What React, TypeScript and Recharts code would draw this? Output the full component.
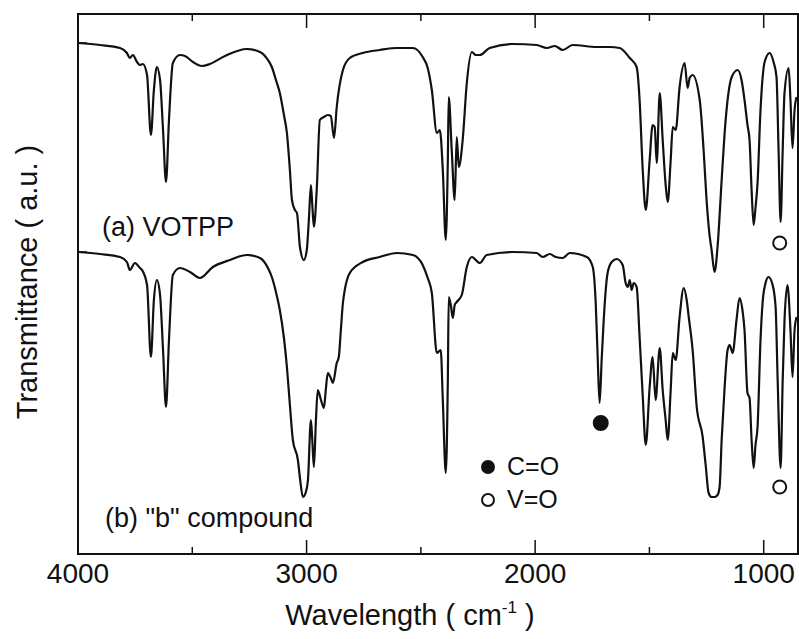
import React from 'react';
import { LineChart, Line, XAxis, YAxis, ReferenceArea, ReferenceDot, Label } from 'recharts';

// wavenumber (cm-1) and transmittance (a.u.)
const waveA = [
  4000, 3904, 3816, 3786, 3773, 3760, 3742, 3729, 3716, 3698, 3681, 3668, 3655, 3641, 3628, 3615,
  3602, 3585, 3554, 3532, 3497, 3458, 3423, 3357, 3261, 3204, 3169, 3152, 3134, 3117, 3099, 3086,
  3073, 3064, 3051, 3042, 3029, 3012, 2999, 2990, 2981, 2975, 2968, 2955, 2942, 2924, 2907, 2894,
  2880, 2868, 2841, 2811, 2754, 2680, 2605, 2535, 2492, 2470, 2452, 2430, 2417, 2404, 2391, 2382,
  2378, 2365, 2352, 2343, 2334, 2317, 2299, 2277, 2260, 2242, 2199, 2098, 1993, 1949, 1914, 1879,
  1836, 1731, 1674, 1630, 1586, 1556, 1543, 1530, 1516, 1499, 1486, 1477, 1468, 1455, 1442, 1429,
  1420, 1407, 1398, 1385, 1368, 1346, 1333, 1324, 1311, 1280, 1263, 1250, 1237, 1228, 1215, 1202,
  1184, 1171, 1140, 1114, 1097, 1084, 1071, 1062, 1053, 1044, 1036, 1027, 1014, 996, 974, 957,
  944, 935, 926, 917, 909, 891, 883, 874, 865, 856,
];
const transA = [
  511, 509, 506, 501, 496, 499, 492, 489, 490, 479, 419, 464, 487, 474, 424, 372,
  434, 491, 499, 498, 492, 488, 490, 498, 505, 502, 494, 487, 474, 461, 439, 421,
  384, 354, 344, 341, 307, 294, 304, 334, 369, 349, 327, 367, 434, 437, 439, 438,
  416, 447, 484, 496, 501, 504, 506, 506, 497, 486, 464, 421, 424, 384, 314, 394,
  457, 404, 354, 417, 387, 414, 471, 502, 499, 499, 506, 510, 509, 506, 508, 504,
  509, 507, 507, 506, 496, 487, 454, 387, 344, 394, 429, 427, 391, 461, 414, 369,
  352, 394, 427, 424, 467, 491, 466, 476, 479, 454, 404, 354, 319, 304, 282, 307,
  374, 421, 477, 484, 474, 454, 429, 414, 364, 329, 346, 371, 444, 492, 501, 492,
  477, 404, 332, 404, 461, 486, 454, 406, 444, 457,
];

const waveB = [
  4000, 3904, 3816, 3786, 3773, 3751, 3729, 3720, 3698, 3681, 3668, 3655, 3641, 3628, 3615, 3602,
  3585, 3554, 3510, 3467, 3410, 3335, 3261, 3204, 3169, 3152, 3134, 3117, 3099, 3086, 3073, 3060,
  3038, 3029, 3016, 3003, 2994, 2981, 2975, 2968, 2959, 2951, 2937, 2924, 2916, 2907, 2894, 2885,
  2868, 2859, 2850, 2841, 2811, 2754, 2680, 2605, 2535, 2492, 2470, 2452, 2430, 2413, 2404, 2391,
  2382, 2378, 2369, 2360, 2352, 2343, 2321, 2299, 2277, 2242, 2212, 2098, 1993, 1967, 1936, 1910,
  1879, 1849, 1774, 1748, 1735, 1726, 1718, 1709, 1700, 1683, 1665, 1643, 1617, 1604, 1595, 1586,
  1578, 1569, 1556, 1543, 1530, 1516, 1499, 1486, 1473, 1455, 1442, 1429, 1420, 1407, 1398, 1385,
  1368, 1350, 1337, 1328, 1311, 1293, 1267, 1254, 1241, 1228, 1215, 1202, 1193, 1184, 1171, 1158,
  1149, 1136, 1119, 1106, 1093, 1084, 1071, 1062, 1053, 1044, 1036, 1027, 1014, 1005, 992, 979,
  961, 948, 939, 926, 917, 909, 896, 883, 874, 865, 856,
];
const transB = [
  302, 300, 297, 292, 284, 291, 286, 284, 269, 197, 254, 274, 259, 204, 147, 214,
  279, 286, 282, 276, 287, 294, 299, 296, 286, 277, 262, 244, 216, 187, 149, 114,
  94, 76, 57, 62, 74, 134, 114, 87, 134, 164, 154, 146, 164, 181, 176, 171,
  191, 197, 224, 251, 281, 292, 297, 301, 299, 289, 276, 261, 201, 204, 154, 81,
  174, 257, 249, 236, 249, 252, 259, 287, 297, 291, 299, 302, 301, 297, 300, 297,
  296, 301, 297, 287, 251, 194, 151, 194, 234, 281, 292, 295, 289, 271, 267, 274,
  264, 271, 267, 217, 161, 109, 167, 197, 154, 206, 164, 134, 114, 164, 201, 194,
  237, 266, 254, 237, 204, 147, 117, 89, 61, 57, 57, 59, 67, 114, 167, 204,
  209, 201, 234, 256, 244, 224, 161, 156, 114, 86, 109, 127, 214, 251, 271, 277,
  269, 247, 174, 86, 174, 234, 269, 224, 177, 224, 237,
];

const xTicks = [4000, 3500, 3000, 2500, 2000, 1500, 1000];
const yTicks = [302, 511];

// band markers: filled = C=O, open = V=O
const markers = [
  { w: 1713, t: 131, filled: true },
  { w: 930, t: 311, filled: false },
  { w: 930, t: 67, filled: false },
];

const dataA = waveA.map((w, i) => ({ w, t: transA[i] }));
const dataB = waveB.map((w, i) => ({ w, t: transB[i] }));

const FONT = '"Liberation Sans", Arial, sans-serif';
const INK = '#111';

const BottomTick = (props: any) => {
  const { x, y, payload } = props;
  const major = payload.value % 1000 === 0;
  return (
    <g>
      <line x1={x} x2={x} y1={y} y2={y - (major ? 14 : 7)} stroke={INK} strokeWidth={1.5} />
      {major && (
        <text x={x} y={y + 29} textAnchor="middle" fontSize={28} fontFamily={FONT} fill={INK}>
          {payload.value}
        </text>
      )}
    </g>
  );
};

const TopTick = (props: any) => {
  const { x, y, payload } = props;
  const major = payload.value % 1000 === 0;
  return <line x1={x} x2={x} y1={y} y2={y + (major ? 14 : 7)} stroke={INK} strokeWidth={1.5} />;
};

const LeftTick = (props: any) => {
  const { x, y } = props;
  return <line x1={x} x2={x + 9} y1={y} y2={y} stroke={INK} strokeWidth={1.5} />;
};

export default function App() {
  return (
    <div style={{ position: 'absolute', left: 0, top: 0, width: 799, height: 639, background: '#fff' }}>
      <LineChart
        width={799}
        height={639}
        margin={{ top: 0, right: 1, bottom: 25, left: 18 }}
        style={{ fontFamily: FONT }}
      >
        <XAxis
          xAxisId="b"
          dataKey="w"
          type="number"
          domain={[850, 4000]}
          reversed
          allowDataOverflow
          ticks={xTicks}
          interval={0}
          height={60}
          axisLine={false}
          tickLine={false}
          tickSize={0}
          tickMargin={0}
          tick={<BottomTick />}
        >
          <Label
            content={() => (
              <text x={410} y={625} textAnchor="middle" fontSize={29} fontFamily={FONT} fill={INK}>
                Wavelength ( cm
                <tspan fontSize={17} dy={-12}>-1</tspan>
                <tspan dy={12}> )</tspan>
              </text>
            )}
          />
        </XAxis>
        <XAxis
          xAxisId="t"
          orientation="top"
          dataKey="w"
          type="number"
          domain={[850, 4000]}
          reversed
          allowDataOverflow
          ticks={xTicks}
          interval={0}
          height={14}
          axisLine={false}
          tickLine={false}
          tickSize={0}
          tickMargin={0}
          tick={<TopTick />}
        />
        <YAxis
          type="number"
          dataKey="t"
          domain={[0, 540]}
          allowDataOverflow
          ticks={yTicks}
          width={60}
          axisLine={false}
          tickLine={false}
          tickSize={0}
          tickMargin={0}
          tick={<LeftTick />}
        >
          <Label
            content={() => (
              <text
                x={27}
                y={282}
                transform="rotate(-90 27 282)"
                textAnchor="middle"
                dominantBaseline="central"
                fontSize={29}
                fontFamily={FONT}
                fill={INK}
              >
                Transmittance ( a.u. )
              </text>
            )}
          />
        </YAxis>
        <ReferenceArea
          xAxisId="b"
          x1={4000}
          x2={850}
          y1={0}
          y2={540}
          fill="none"
          fillOpacity={0}
          stroke={INK}
          strokeWidth={2}
        />
        <Line
          xAxisId="b"
          data={dataA}
          dataKey="t"
          type="monotone"
          stroke={INK}
          strokeWidth={2.2}
          strokeLinejoin="round"
          dot={false}
          isAnimationActive={false}
        />
        <Line
          xAxisId="b"
          data={dataB}
          dataKey="t"
          type="monotone"
          stroke={INK}
          strokeWidth={2.2}
          strokeLinejoin="round"
          dot={false}
          isAnimationActive={false}
        />
        {markers.map((m, i) => (
          <ReferenceDot
            key={i}
            xAxisId="b"
            x={m.w}
            y={m.t}
            r={m.filled ? 7 : 6.5}
            fill={m.filled ? INK : '#fff'}
            stroke={INK}
            strokeWidth={2}
          />
        ))}
      </LineChart>
      <svg
        width={799}
        height={639}
        style={{ position: 'absolute', left: 0, top: 0, pointerEvents: 'none' }}
        fontFamily={FONT}
      >
        <text x={102} y={236} fontSize={27} fill={INK}>(a) VOTPP</text>
        <text x={105} y={527} fontSize={27} fill={INK}>(b) "b" compound</text>
        <circle cx={488} cy={467} r={7} fill={INK} />
        <text x={507} y={475} fontSize={25} fill={INK}>C=O</text>
        <circle cx={488} cy={500} r={6} fill="#fff" stroke={INK} strokeWidth={2} />
        <text x={507} y={508} fontSize={25} fill={INK}>V=O</text>
      </svg>
    </div>
  );
}
